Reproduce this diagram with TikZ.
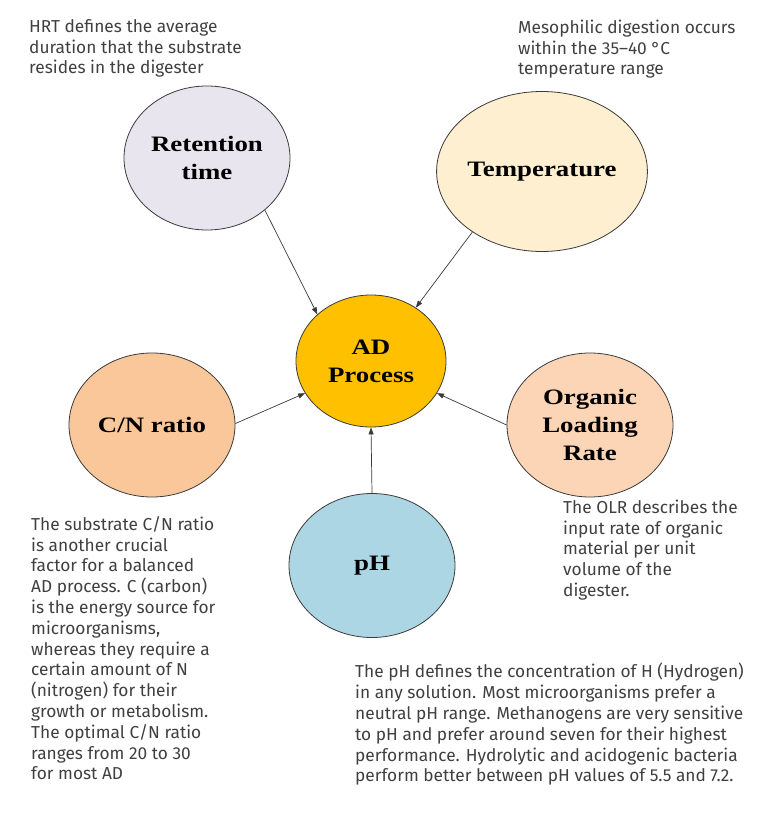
\documentclass[tikz,border=0pt]{standalone}
\usepackage{fontspec}
\usetikzlibrary{shapes.geometric,arrows.meta}
\newfontfamily\labfont[FakeStretch=1.22]{Liberation Serif}
\newfontfamily\bodyfont{Fira Sans}
\definecolor{txtgray}{HTML}{404040}
\definecolor{edgegray}{HTML}{3A3A3A}
\definecolor{cRet}{HTML}{E9E5EE}
\definecolor{cTemp}{HTML}{FDEFCF}
\definecolor{cAD}{HTML}{FFC000}
\definecolor{cCN}{HTML}{F9C79A}
\definecolor{cOLR}{HTML}{FCD5B6}
\definecolor{cPH}{HTML}{ADD6E5}
\tikzset{
  factor/.style={ellipse, draw=edgegray, line width=0.8pt, inner sep=0pt,
    minimum width=166pt, minimum height=144pt, align=center,
    font={\labfont\bfseries\fontsize{22}{28}\selectfont}, text=black},
  note/.style={anchor=north west, inner sep=0pt, align=left, text=txtgray,
    font={\bodyfont\fontsize{17.3}{20.8}\selectfont}},
  link/.style={draw=edgegray, line width=0.7pt, -{Triangle[length=7pt,width=5pt]}}
}
\newcommand{\fl}{\rule{0pt}{14pt}}
\begin{document}
\begin{tikzpicture}[x=1pt,y=-1pt]
\useasboundingbox[fill=white] (0,0) rectangle (770,819);
% ellipses
\node[factor, fill=cAD, minimum width=150pt, minimum height=132pt] (ad) at (371,361) {AD\\Process};
\node[factor, fill=cRet] (ret) at (207,158) {Retention\\time};
\node[factor, fill=cTemp, minimum width=186pt, minimum height=160pt] (temp) at (542,171.5) {Temperature};
\node[factor, fill=cCN] (cn) at (152,425) {C/N ratio};
\node[factor, fill=cOLR] (olr) at (590,425) {Organic\\Loading\\Rate};
\node[factor, fill=cPH] (ph) at (372,565.5) {pH};
% connectors
\draw[link] (ret.-42) -- (ad.139.5);
\draw[link] (temp.221.6) -- (ad.50.8);
\draw[link] (cn.1) -- (ad.206.6);
\draw[link] (olr.180) -- (ad.-26);
\draw[link] (ph.90) -- (ad.270);
% notes
\node[note] (nret) at (29,{32-14}) {\fl HRT defines the average\\duration that the substrate\\resides in the digester};
\node[note] (ntemp) at (518,{33-14}) {\fl Mesophilic digestion occurs\\within the 35–40 °C\\temperature range};
\node[note] (ncn) at (31,{530-14}) {\fl The substrate C/N ratio\\is another crucial\\factor for a balanced\\AD process. C (carbon)\\is the energy source for\\microorganisms,\\whereas they require a\\certain amount of N\\(nitrogen) for their\\growth or metabolism.\\The optimal C/N ratio\\ranges from 20 to 30\\for most AD};
\node[note] (nolr) at (563,{513-14}) {\fl The OLR describes the\\input rate of organic\\material per unit\\volume of the\\digester.};
\node[note] (nph) at (355,{677-14}) {\fl The pH defines the concentration of H (Hydrogen)\\in any solution. Most microorganisms prefer a\\neutral pH range. Methanogens are very sensitive\\to pH and prefer around seven for their highest\\performance. Hydrolytic and acidogenic bacteria\\perform better between pH values of 5.5 and 7.2.};
\end{tikzpicture}
\end{document}
